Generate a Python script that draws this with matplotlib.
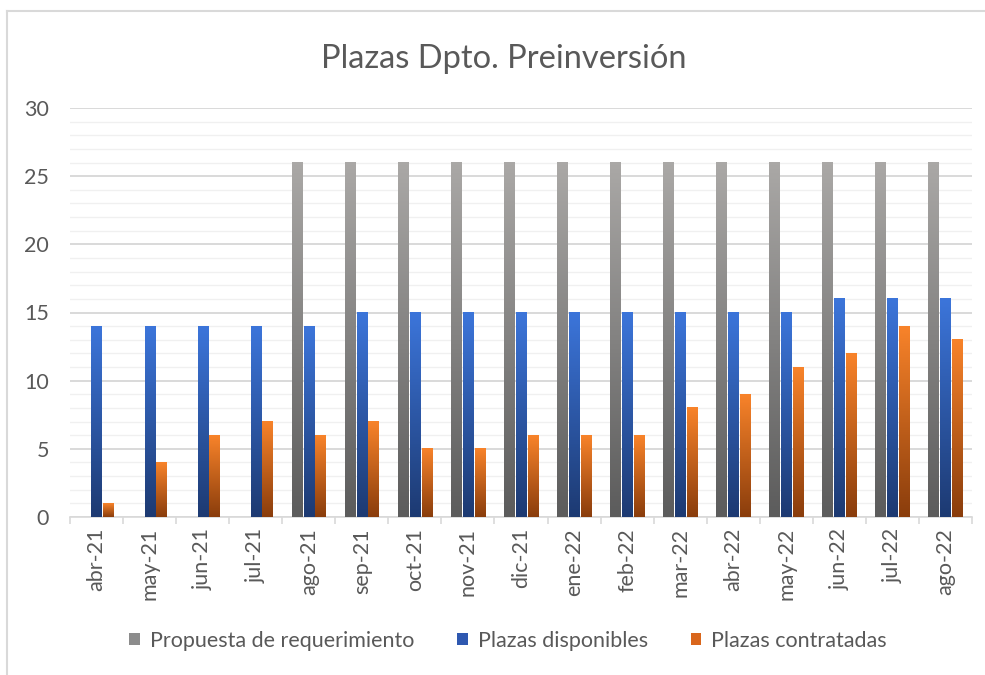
import matplotlib
matplotlib.use('Agg')
import matplotlib.pyplot as plt
import numpy as np
from matplotlib.colors import LinearSegmentedColormap
from matplotlib.patches import Patch
from matplotlib.lines import Line2D

plt.rcParams['font.family'] = ['Lato', 'DejaVu Sans']

months = ['abr-21', 'may-21', 'jun-21', 'jul-21', 'ago-21', 'sep-21', 'oct-21', 'nov-21',
          'dic-21', 'ene-22', 'feb-22', 'mar-22', 'abr-22', 'may-22', 'jun-22', 'jul-22', 'ago-22']
propuesta = [0, 0, 0, 0, 26, 26, 26, 26, 26, 26, 26, 26, 26, 26, 26, 26, 26]
disponibles = [14, 14, 14, 14, 14, 15, 15, 15, 15, 15, 15, 15, 15, 15, 16, 16, 16]
contratadas = [1, 4, 6, 7, 6, 7, 5, 5, 6, 6, 6, 8, 9, 11, 12, 14, 13]

series = [
    ('Propuesta de requerimiento', propuesta, '#aaa8a6', '#5c5c5c', '#8c8c8c', -0.23),
    ('Plazas disponibles', disponibles, '#3c75da', '#1d3a72', '#2e58b0', 0.0),
    ('Plazas contratadas', contratadas, '#f8832a', '#8a3d0c', '#d9661c', 0.22),
]
txt = '#595959'

fig = plt.figure(figsize=(9.85, 6.75), dpi=100)
ax = fig.add_axes([70 / 985, 1 - 517 / 675, 902 / 985, 409 / 675])

x = np.arange(len(months))
width = 0.19
grad = np.linspace(0, 1, 100).reshape(-1, 1)

def gradient_bars(ax, xs, vals, top, bottom):
    # one vertical gradient per bar, light at top, dark at bottom
    cmap = LinearSegmentedColormap.from_list('g', [bottom, top])
    bars = ax.bar(xs, vals, width, color='none', edgecolor='none', zorder=3)
    for b in bars:
        h = b.get_height()
        if h <= 0:
            continue
        x0 = b.get_x()
        ax.imshow(grad, cmap=cmap, origin='lower', aspect='auto',
                  extent=[x0, x0 + b.get_width(), 0, h], zorder=3, interpolation='bicubic')

handles = []
for name, vals, top, bottom, mid, off in series:
    gradient_bars(ax, x + off, vals, top, bottom)
    handles.append(Patch(facecolor=mid, edgecolor='none', label=name))

ax.set_xlim(-0.5, len(months) - 0.5)
ax.set_ylim(0, 30)
ax.set_yticks(range(0, 31, 5))
ax.set_yticks(range(0, 31, 1), minor=True)
ax.grid(axis='y', which='major', color='#d9d9d9', linewidth=1.4, zorder=0)
ax.grid(axis='y', which='minor', color='#f0f0f0', linewidth=1.0, zorder=0)
ax.set_axisbelow(True)

ax.set_xticks(x)
ax.set_xticklabels(months, rotation=90, fontsize=15.5, color=txt)
ax.set_xticks(np.arange(-0.5, len(months), 1), minor=True)
ax.tick_params(axis='x', which='major', length=0, pad=8)
ax.tick_params(axis='x', which='minor', length=5, color='#d9d9d9', width=1.2)
ax.tick_params(axis='y', which='both', length=0, labelsize=15.5, labelcolor=txt, pad=15)

for s in ['top', 'right', 'left']:
    ax.spines[s].set_visible(False)
ax.spines['bottom'].set_color('#d9d9d9')
ax.spines['bottom'].set_linewidth(1.2)

fig.text(504 / 985, 1 - 59 / 675, 'Plazas Dpto. Preinversión', ha='center', va='center',
         fontsize=23.5, color=txt)

fig.legend(handles=handles, loc='center', bbox_to_anchor=(508 / 985, 1 - 641 / 675), ncol=3,
           frameon=False, fontsize=15.5, handlelength=0.5, handleheight=0.5, handletextpad=0.45,
           columnspacing=2.0, labelcolor=txt)

# chart area border (only left and top visible in the reference crop)
fig.add_artist(Line2D([7 / 985, 7 / 985], [0, 1 - 11 / 675], transform=fig.transFigure,
                      color='#d9d9d9', linewidth=1.5))
fig.add_artist(Line2D([7 / 985, 1], [1 - 11 / 675, 1 - 11 / 675], transform=fig.transFigure,
                      color='#d9d9d9', linewidth=1.5))

fig.savefig('out.png', dpi=100)
